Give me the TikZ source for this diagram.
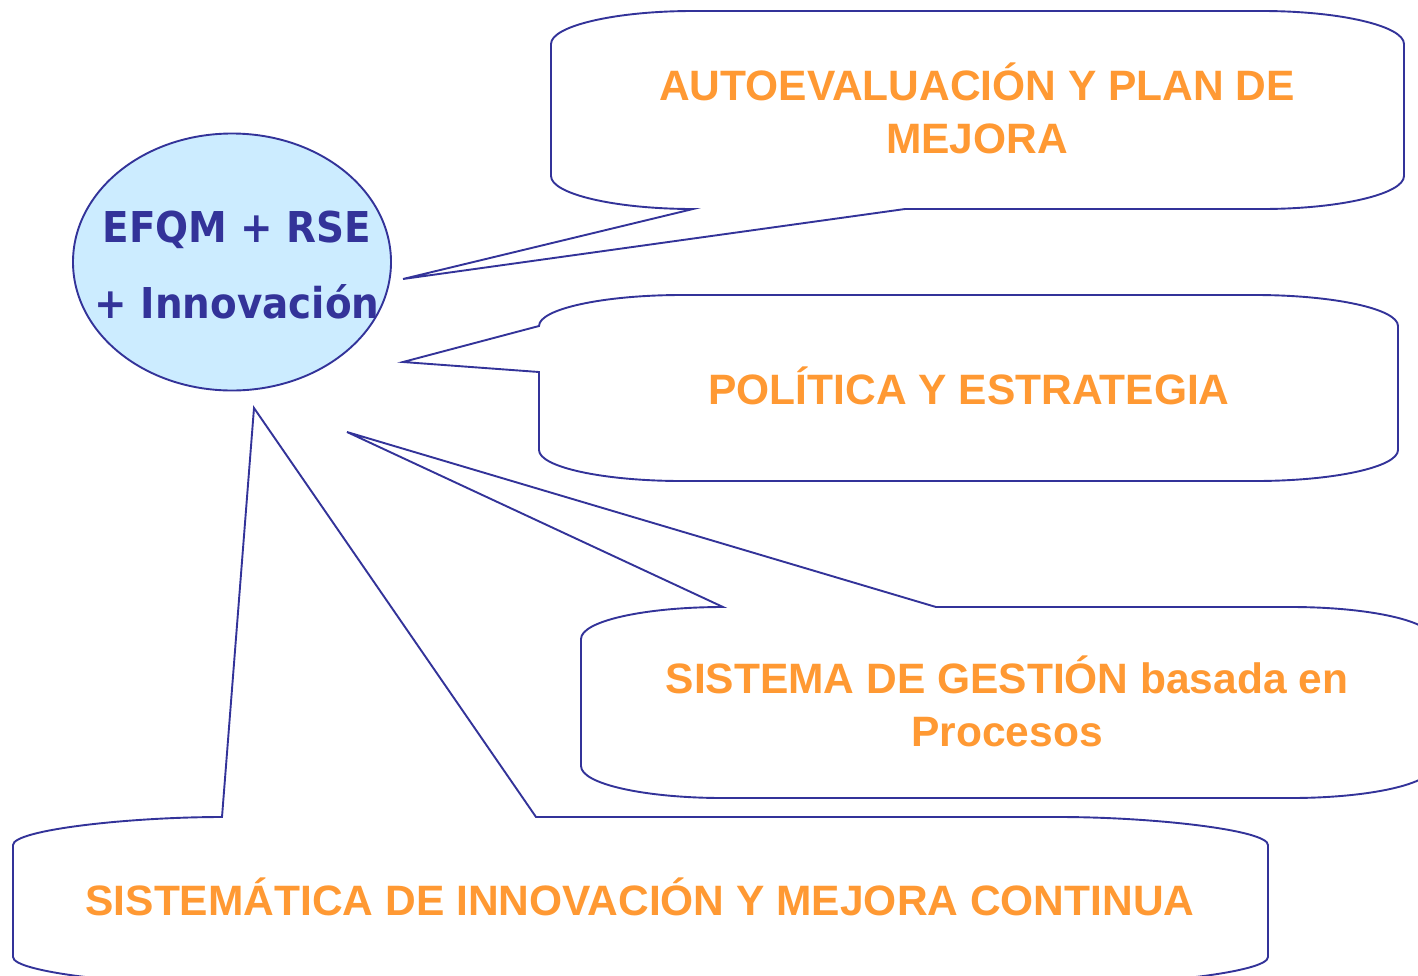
\documentclass[tikz,border=0pt]{standalone}
\usepackage{fontspec}
\setmainfont{Liberation Sans}
\newfontfamily\hubFont[FakeStretch=0.915]{DejaVu Sans}
\usepackage{tikz}
\usetikzlibrary{shapes.geometric}
\tikzstyle{slide} = [x = 1pt, y = -1pt]
\definecolor{lineBlue}{RGB}{51,51,153}
\definecolor{textOrange}{RGB}{255,153,51}
\definecolor{hubFill}{RGB}{204,236,255}
\tikzstyle{calloutStyle} = [draw=lineBlue, fill=white, line width=1.9pt, line join=miter]
\tikzstyle{calloutText} = [text=textOrange, align=center, anchor=base, inner sep=0pt, font=\fontsize{42.5}{52.5}\selectfont\bfseries]
\tikzstyle{hubStyle} = [ellipse, draw=lineBlue, fill=hubFill, line width=1.9pt, minimum width=318pt, minimum height=257pt, inner sep=0pt]
\tikzstyle{hubText} = [text=lineBlue, align=center, anchor=base, inner sep=0pt, font=\hubFont\fontsize{42.5}{76}\selectfont\bfseries]
\begin{document}
\begin{tikzpicture}[slide]
  \useasboundingbox (0,0) rectangle (1418,975);
  % autoevaluacion
  \draw [calloutStyle] (693,209) -- (403,279) -- (905,209) -- (1262,209)
    .. controls (1340,209) and (1404,194) .. (1404,176) -- (1404,44)
    .. controls (1404,26) and (1340,11) .. (1262,11) -- (693,11)
    .. controls (615,11) and (551,26) .. (551,44) -- (551,176)
    .. controls (551,194) and (615,209) .. (693,209) -- cycle;
  % politica
  \draw [calloutStyle] (539,326) .. controls (539,309) and (603,295) .. (682,295) -- (1255,295)
    .. controls (1334,295) and (1398,309) .. (1398,326) -- (1398,450)
    .. controls (1398,467) and (1334,481) .. (1255,481) -- (682,481)
    .. controls (603,481) and (539,467) .. (539,450) -- (539,372) -- (403,362) -- cycle;
  % sistema de gestion
  \draw [calloutStyle] (723,607) -- (347,432) -- (936,607) -- (1291,607)
    .. controls (1369,607) and (1433,621) .. (1433,639) -- (1433,766)
    .. controls (1433,784) and (1369,798) .. (1291,798) -- (723,798)
    .. controls (645,798) and (581,784) .. (581,766) -- (581,639)
    .. controls (581,621) and (645,607) .. (723,607) -- cycle;
  % sistematica
  \draw [calloutStyle] (222,817) -- (254,408) -- (536,817) -- (1059,817)
    .. controls (1153,817) and (1268,830) .. (1268,845) -- (1268,957)
    .. controls (1268,972) and (1153,985) .. (1059,985) -- (222,985)
    .. controls (128,985) and (13,972) .. (13,957) -- (13,845)
    .. controls (13,830) and (128,817) .. (222,817) -- cycle;

  \node [hubStyle] (hub) at (232,262) {};
  \node [hubText] (hubLabel) at (237,318) {EFQM + RSE\\+ Innovación};

  \node [calloutText] (autoevaluacion) at (977,153) {AUTOEVALUACIÓN Y PLAN DE\\MEJORA};
  \node [calloutText] (politica) at (969,404) {POLÍTICA Y ESTRATEGIA};
  \node [calloutText] (gestion) at (1007,746) {SISTEMA DE GESTIÓN basada en\\Procesos};
  \node [calloutText] (sistematica) at (640,915) {SISTEMÁTICA DE INNOVACIÓN Y MEJORA CONTINUA};
\end{tikzpicture}
\end{document}
